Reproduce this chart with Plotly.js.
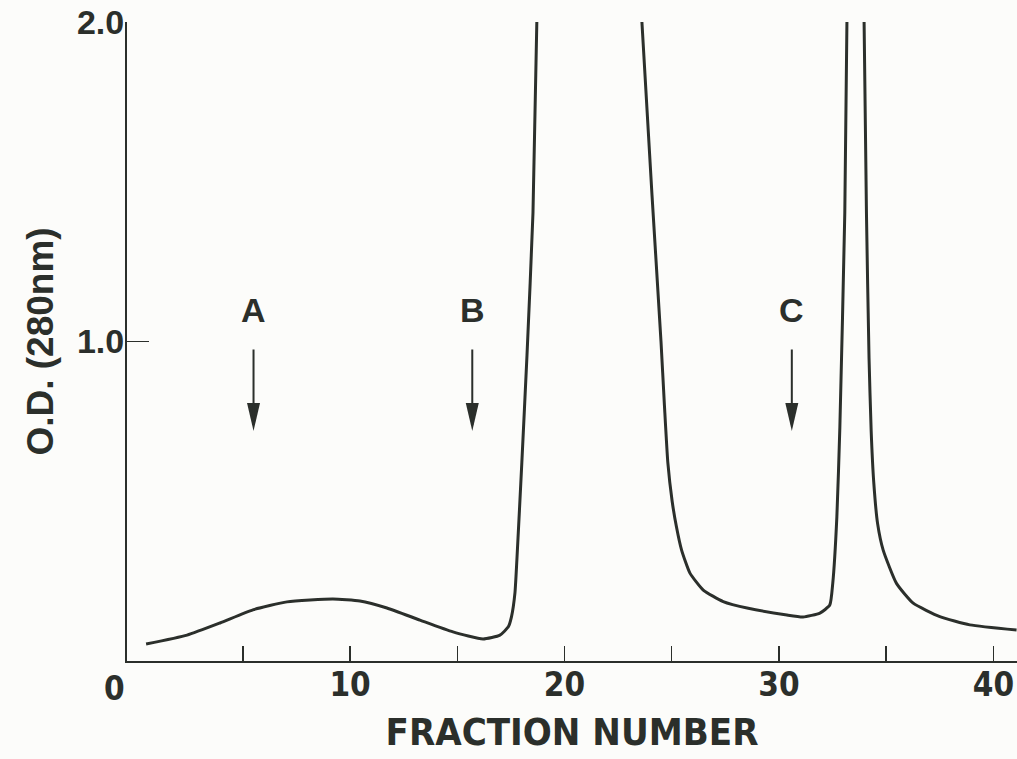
<!DOCTYPE html>
<html>
<head>
<meta charset="utf-8">
<script src="https://cdn.plot.ly/plotly-3.0.1.min.js"></script>
<style>
html,body{margin:0;padding:0;background:#fcfcfa;}
#chart{width:1017px;height:759px;}
</style>
</head>
<body>
<div id="chart"></div>
<script>
// Elution profile: fraction number vs O.D. (280nm); null = off-scale peak top
const fraction = [0.49, 2.40, 3.94, 5.47, 7.06, 9.20, 10.46, 11.72, 13.26, 14.80, 16.20, 16.99, 17.38, 17.53, 17.69, 17.78, 18.01, 18.25, 18.53, 18.71,
                  21.2,
                  23.61, 24.08, 24.50, 24.66, 24.82, 25.02, 25.22, 25.46, 25.85, 26.47, 27.40, 28.57, 30.37, 31.12, 31.91, 32.37, 32.51, 32.70, 32.84, 33.07, 33.17,
                  33.6,
                  33.97, 34.08, 34.20, 34.30, 34.42, 34.60, 34.86, 35.48, 36.26, 37.50, 38.90, 41.08];
const od = [0.053, 0.081, 0.119, 0.160, 0.185, 0.194, 0.188, 0.166, 0.128, 0.091, 0.069, 0.081, 0.107, 0.139, 0.213, 0.316, 0.620, 0.955, 1.402, 2.0,
            null,
            2.0, 1.459, 1.000, 0.800, 0.620, 0.500, 0.420, 0.347, 0.275, 0.222, 0.186, 0.165, 0.144, 0.138, 0.150, 0.175, 0.244, 0.451, 0.732, 1.402, 2.0,
            null,
            2.0, 1.402, 0.950, 0.720, 0.560, 0.430, 0.347, 0.243, 0.181, 0.139, 0.113, 0.097];

const xTickVals = [5, 10, 15, 20, 25, 30, 35, 40];
const xTickText = ['', '10', '', '20', '', '30', '', '40'];
const yTickVals = [1.0, 2.0];
const yTickText = ['1.0', '2.0'];

const markerLabels = ['A', 'B', 'C'];
const markerX = [5.5, 15.7, 30.6];
const arrowTop = 0.98;
const arrowTip = 0.72;
const labelY = 1.10;

const ink = '#2b2f2b';
const condensed = 'DejaVu Sans Condensed, Liberation Sans Narrow, sans-serif';
const sans = 'Liberation Sans, Arial, sans-serif';

const annotations = [];
const shapes = [];
markerLabels.forEach((lab, i) => {
  annotations.push({x: markerX[i], y: labelY, xref: 'x', yref: 'y', text: lab, showarrow: false,
    font: {family: sans, size: 34, color: ink, weight: 'bold'}});
  annotations.push({x: markerX[i], y: arrowTip, xref: 'x', yref: 'y', ax: markerX[i], ay: arrowTop,
    axref: 'x', ayref: 'y', text: '', showarrow: true, arrowhead: 0, arrowwidth: 2, arrowcolor: ink, standoff: 6});
  shapes.push({type: 'path', xref: 'x', yref: 'y', xsizemode: 'pixel', ysizemode: 'pixel',
    xanchor: markerX[i], yanchor: arrowTip, path: 'M-6.5,28 L6.5,28 L0,0 Z',
    fillcolor: ink, line: {width: 0}});
});
annotations.push({x: 0, y: 0, xref: 'paper', yref: 'paper', text: '0', showarrow: false,
  xanchor: 'right', yanchor: 'top', xshift: 0, yshift: -6,
  font: {family: condensed, size: 33, color: ink, weight: 'bold'}});

const trace = {x: fraction, y: od, type: 'scatter', mode: 'lines', connectgaps: false,
  line: {color: ink, width: 3, shape: 'spline', smoothing: 0.5}, hoverinfo: 'skip'};

const layout = {
  width: 1017, height: 759,
  margin: {l: 127, r: 0, t: 22, b: 98},
  paper_bgcolor: '#fcfcfa', plot_bgcolor: '#fcfcfa',
  showlegend: false,
  xaxis: {range: [-0.4, 41.1], showgrid: false, zeroline: false, showline: true, linecolor: ink, linewidth: 2,
    ticks: 'inside', ticklen: 15, tickwidth: 1.5, tickcolor: ink, tickmode: 'array', tickvals: xTickVals, ticktext: xTickText,
    ticklabelstandoff: -7,
    tickfont: {family: condensed, size: 33, color: ink, weight: 'bold'},
    title: {text: 'FRACTION NUMBER', standoff: 16,
      font: {family: condensed, size: 38, color: ink, weight: 'bold'}}},
  yaxis: {range: [0, 2.0], showgrid: false, zeroline: false, showline: true, linecolor: ink, linewidth: 2,
    ticks: 'inside', ticklen: 22, tickwidth: 1.5, tickcolor: ink, tickmode: 'array', tickvals: yTickVals, ticktext: yTickText,
    ticklabelstandoff: -6,
    tickfont: {family: sans, size: 34, color: ink, weight: 'bold'},
    title: {text: 'O.D. (280nm)', standoff: 12,
      font: {family: sans, size: 37, color: ink, weight: 'bold'}}},
  annotations: annotations,
  shapes: shapes
};

Plotly.newPlot('chart', [trace], layout, {displayModeBar: false, staticPlot: true});
</script>
</body>
</html>
